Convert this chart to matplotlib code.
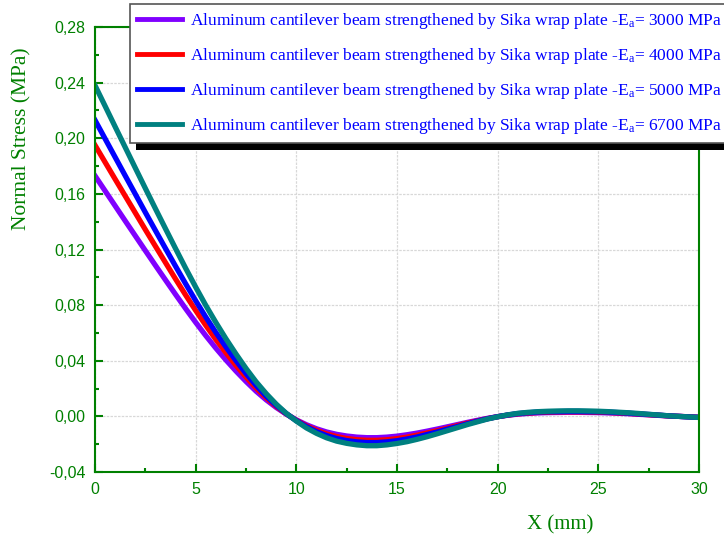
import matplotlib
matplotlib.use("Agg")
import matplotlib.pyplot as plt
import matplotlib.patheffects as pe
from matplotlib.ticker import MultipleLocator, FuncFormatter

# normal stress along the beam (MPa), sampled every 0.5 mm from 0 to 30 mm
x_mm = [i * 0.5 for i in range(61)]
stress_3000 = [0.1730, 0.1622, 0.1514, 0.1406, 0.1299, 0.1192, 0.1086, 0.0981, 0.0877, 0.0775,
               0.0676, 0.0581, 0.0491, 0.0406, 0.0326, 0.0251, 0.0181, 0.0119, 0.0064, 0.0016,
               -0.0025, -0.0060, -0.0089, -0.0112, -0.0129, -0.0141, -0.0149, -0.0153, -0.0153, -0.0149,
               -0.0142, -0.0132, -0.0120, -0.0106, -0.0091, -0.0075, -0.0059, -0.0043, -0.0028, -0.0014,
               -0.0002, 0.0008, 0.0016, 0.0021, 0.0025, 0.0027, 0.0028, 0.0029, 0.0029, 0.0028,
               0.0027, 0.0025, 0.0022, 0.0019, 0.0015, 0.0011, 0.0007, 0.0003, 0.0000, -0.0003,
               -0.0006]
stress_4000 = [0.1950, 0.1828, 0.1706, 0.1585, 0.1464, 0.1343, 0.1224, 0.1106, 0.0988, 0.0873,
               0.0762, 0.0655, 0.0553, 0.0458, 0.0367, 0.0283, 0.0204, 0.0134, 0.0072, 0.0018,
               -0.0028, -0.0068, -0.0100, -0.0126, -0.0145, -0.0159, -0.0168, -0.0172, -0.0172, -0.0168,
               -0.0160, -0.0149, -0.0135, -0.0119, -0.0103, -0.0085, -0.0066, -0.0048, -0.0032, -0.0016,
               -0.0002, 0.0009, 0.0018, 0.0024, 0.0028, 0.0030, 0.0032, 0.0033, 0.0033, 0.0032,
               0.0030, 0.0028, 0.0025, 0.0021, 0.0017, 0.0012, 0.0008, 0.0003, 0.0000, -0.0003,
               -0.0007]
stress_5000 = [0.2130, 0.1997, 0.1864, 0.1731, 0.1599, 0.1467, 0.1337, 0.1208, 0.1080, 0.0954,
               0.0832, 0.0715, 0.0604, 0.0500, 0.0401, 0.0309, 0.0223, 0.0146, 0.0079, 0.0020,
               -0.0031, -0.0074, -0.0110, -0.0138, -0.0159, -0.0174, -0.0183, -0.0188, -0.0188, -0.0183,
               -0.0175, -0.0162, -0.0148, -0.0130, -0.0112, -0.0092, -0.0073, -0.0053, -0.0034, -0.0017,
               -0.0002, 0.0010, 0.0020, 0.0026, 0.0031, 0.0033, 0.0034, 0.0036, 0.0036, 0.0034,
               0.0033, 0.0031, 0.0027, 0.0023, 0.0018, 0.0014, 0.0009, 0.0004, 0.0000, -0.0004,
               -0.0007]
stress_6700 = [0.2380, 0.2232, 0.2083, 0.1935, 0.1787, 0.1640, 0.1494, 0.1350, 0.1207, 0.1066,
               0.0930, 0.0799, 0.0676, 0.0559, 0.0449, 0.0345, 0.0249, 0.0164, 0.0088, 0.0022,
               -0.0034, -0.0083, -0.0122, -0.0154, -0.0178, -0.0194, -0.0205, -0.0211, -0.0211, -0.0205,
               -0.0195, -0.0182, -0.0165, -0.0146, -0.0125, -0.0103, -0.0081, -0.0059, -0.0039, -0.0019,
               -0.0003, 0.0011, 0.0022, 0.0029, 0.0034, 0.0037, 0.0039, 0.0040, 0.0040, 0.0039,
               0.0037, 0.0034, 0.0030, 0.0026, 0.0021, 0.0015, 0.0010, 0.0004, 0.0000, -0.0004,
               -0.0008]

moduli = ["3000", "4000", "5000", "6700"]
series = [stress_3000, stress_4000, stress_5000, stress_6700]
colors = ["#8000ff", "#ff0000", "#0000ff", "#008080"]

green = "#008000"

plt.rcParams["mathtext.fontset"] = "custom"
plt.rcParams["mathtext.rm"] = "Liberation Serif"
plt.rcParams["mathtext.it"] = "Liberation Serif:italic"

fig = plt.figure(figsize=(7.24, 5.37), dpi=100)
ax = fig.add_axes([95 / 724, 1 - 472 / 537, 604 / 724, 445 / 537])

for vals, col, e in zip(series, colors, moduli):
    label = "Aluminum cantilever beam strengthened by Sika wrap plate -E$_\\mathrm{a}$= %s MPa" % e
    ax.plot(x_mm, vals, color=col, lw=3.8, label=label, solid_joinstyle="round")

ax.set_xlim(0, 30)
ax.set_ylim(-0.04, 0.28)
ax.xaxis.set_major_locator(MultipleLocator(5))
ax.xaxis.set_minor_locator(MultipleLocator(2.5))
ax.yaxis.set_major_locator(MultipleLocator(0.04))
ax.yaxis.set_minor_locator(MultipleLocator(0.02))
ax.yaxis.set_major_formatter(FuncFormatter(lambda v, p: ("%.2f" % v).replace(".", ",")))

ax.grid(True, which="major", color="#d8d8d8", lw=0.9, ls=(0, (2, 1)))
ax.set_axisbelow(True)

for s in ax.spines.values():
    s.set_color(green)
    s.set_linewidth(1.5)

ax.tick_params(which="both", direction="in", colors=green, width=1.5, top=False, right=False)
ax.tick_params(which="major", length=6, labelsize=11.5, pad=7)
ax.tick_params(which="minor", length=3)
for lab in ax.get_xticklabels() + ax.get_yticklabels():
    lab.set_family("Liberation Sans")

ax.set_xlabel("X (mm)", family="Liberation Serif", fontsize=15, color=green)
ax.set_ylabel("Normal Stress (MPa)", family="Liberation Serif", fontsize=15.5, color=green)
ax.xaxis.set_label_coords(0.77, -0.098)
ax.yaxis.set_label_coords(-0.105, 0.75)

leg = ax.legend(loc="upper left", bbox_to_anchor=(130 / 724, 1 - 4 / 537),
                bbox_transform=fig.transFigure, frameon=True, fancybox=False,
                prop={"family": "Liberation Serif", "size": 12.5},
                handlelength=2.6, handletextpad=0.45, labelspacing=0.86,
                borderpad=0.4, borderaxespad=0)
frame = leg.get_frame()
frame.set_edgecolor("#555555")
frame.set_linewidth(1.2)
frame.set_facecolor("white")
frame.set_alpha(1)
frame.set_path_effects([pe.SimplePatchShadow(offset=(4, -5.5), shadow_rgbFace="black", alpha=1),
                        pe.Normal()])
for t in leg.get_texts():
    t.set_color("#0000ff")
for h in leg.get_lines():
    h.set_linewidth(3.5)

fig.savefig("out.png", dpi=100)
